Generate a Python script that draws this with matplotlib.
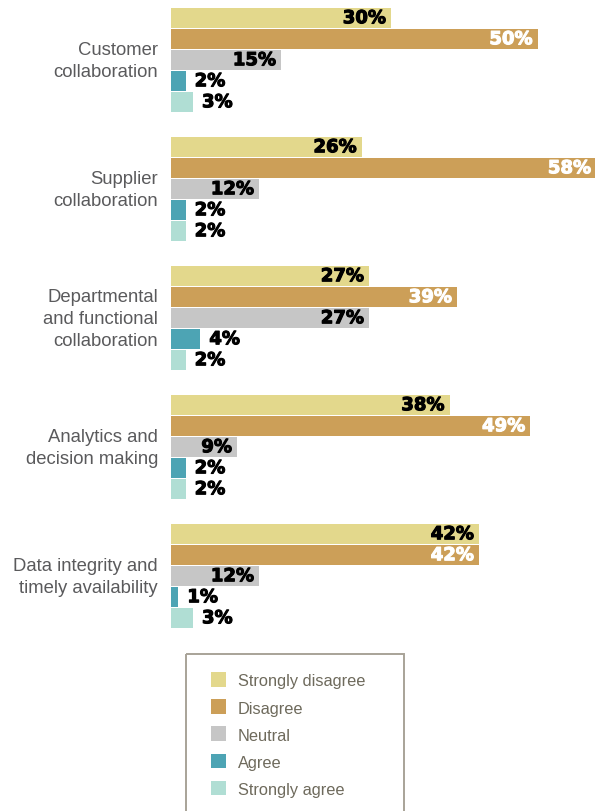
"""Survey results: agreement levels across collaboration areas."""

import matplotlib

matplotlib.use("Agg")
import matplotlib.pyplot as plt  # noqa: E402
import matplotlib.patheffects as pe  # noqa: E402
from matplotlib.patches import Rectangle  # noqa: E402
from matplotlib.transforms import Affine2D  # noqa: E402

categories = [
    "Customer\ncollaboration",
    "Supplier\ncollaboration",
    "Departmental\nand functional\ncollaboration",
    "Analytics and\ndecision making",
    "Data integrity and\ntimely availability",
]
series = ["Strongly disagree", "Disagree", "Neutral", "Agree", "Strongly agree"]
strongly_disagree = [30, 26, 27, 38, 42]
disagree = [50, 58, 39, 49, 42]
neutral = [15, 12, 27, 9, 12]
agree = [2, 2, 4, 2, 1]
strongly_agree = [3, 2, 2, 2, 3]

colors = ["#e3d88c", "#cc9f58", "#c6c6c6", "#4da4b4", "#b0ded4"]
label_colors = ["black", "white", "black", "black", "black"]

W, H = 595, 812
PX_PER_PCT = 7.33
LEFT = 171
SLOT = 21.0
GROUP = 129.0 / SLOT
TOP = (9.5 + 9.75) / SLOT

fig = plt.figure(figsize=(W / 100, H / 100), dpi=100)
ax = fig.add_axes([LEFT / W, 0, 1 - LEFT / W, 1])
ax.set_xlim(0, (W - LEFT) / PX_PER_PCT)
ax.set_ylim(H / SLOT, 0)
ax.axis("off")

values = [strongly_disagree, disagree, neutral, agree, strongly_agree]
bold = dict(family="DejaVu Sans", weight="bold", fontsize=13)

for j, vals in enumerate(values):
    ys = [TOP + i * GROUP + j for i in range(len(categories))]
    ax.barh(ys, vals, height=0.93, color=colors[j], clip_on=False)
    for y, v in zip(ys, vals):
        inside = v >= 9
        c = label_colors[j] if inside else "black"
        if inside:
            t = ax.text(v - 5 / PX_PER_PCT, y, f"{v}%", ha="right", va="center",
                        color=c, **bold)
        else:
            t = ax.text(v + 9 / PX_PER_PCT, y, f"{v}%", ha="left", va="center",
                        color=c, **bold)
        # thicken the glyphs a little for a heavier face
        t.set_path_effects([pe.withStroke(linewidth=0.8, foreground=c)])

for i, cat in enumerate(categories):
    ax.text(-13 / PX_PER_PCT, TOP + i * GROUP + 2, cat, ha="right", va="center",
            multialignment="right", family="Liberation Sans", fontsize=13.3,
            color="#5a5a5c", linespacing=1.4, clip_on=False)

# legend box drawn in pixel coordinates (origin top-left)
px = Affine2D().scale(1 / W, -1 / H).translate(0, 1) + fig.transFigure
fig.patches.append(Rectangle((186, 655), 218, 200, transform=px, fill=False,
                             edgecolor="#a8a398", linewidth=1.4))
for k, name in enumerate(series):
    yc = 680.5 + k * 27.2
    fig.patches.append(Rectangle((211, yc - 7.5), 15, 14.5, transform=px,
                                 facecolor=colors[k], edgecolor="none"))
    fig.text(238 / W, 1 - (yc + 1.5) / H, name, ha="left", va="center",
             family="Liberation Sans", fontsize=11.8, color="#6e6a5c")

fig.savefig("out.png", dpi=100)
